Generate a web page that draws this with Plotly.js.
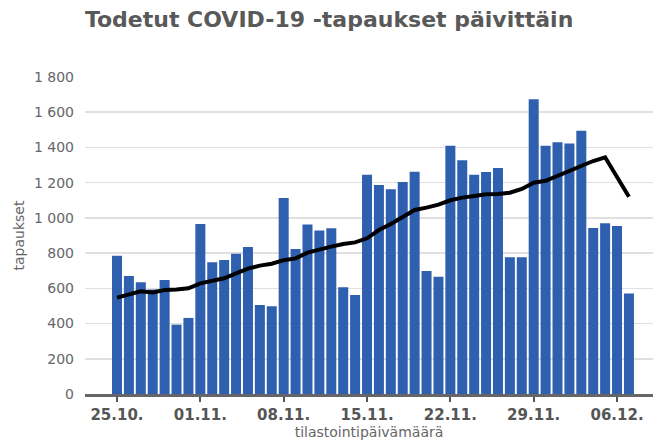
<!DOCTYPE html>
<html>
<head>
<meta charset="utf-8">
<script src="https://cdn.plot.ly/plotly-3.0.1.min.js"></script>
<style>html,body{margin:0;padding:0;background:#fff}#chart{width:653px;height:441px}</style>
</head>
<body>
<div id="chart"></div>
<script>
const dates = [
"2020-10-25","2020-10-26","2020-10-27","2020-10-28","2020-10-29","2020-10-30","2020-10-31",
"2020-11-01","2020-11-02","2020-11-03","2020-11-04","2020-11-05","2020-11-06","2020-11-07",
"2020-11-08","2020-11-09","2020-11-10","2020-11-11","2020-11-12","2020-11-13","2020-11-14",
"2020-11-15","2020-11-16","2020-11-17","2020-11-18","2020-11-19","2020-11-20","2020-11-21",
"2020-11-22","2020-11-23","2020-11-24","2020-11-25","2020-11-26","2020-11-27","2020-11-28",
"2020-11-29","2020-11-30","2020-12-01","2020-12-02","2020-12-03","2020-12-04","2020-12-05",
"2020-12-06","2020-12-07"];
const cases = [
785,670,634,594,647,394,432,
965,748,761,797,835,505,498,
1113,823,963,928,941,606,562,
1245,1187,1162,1204,1262,698,666,
1410,1327,1245,1261,1283,776,776,
1673,1410,1429,1423,1495,943,969,
954,570];
const avg7 = [
547,566,583,577,590,594,600,
628,640,657,685,712,729,740,
760,770,803,822,837,852,861,
884,931,965,1007,1045,1058,1075,
1100,1115,1124,1134,1136,1143,1164,
1200,1211,1240,1266,1297,1323,1344,
1232,1120];
const xTickVals = ["2020-10-25","2020-11-01","2020-11-08","2020-11-15","2020-11-22","2020-11-29","2020-12-06"];
const xTickText = ["25.10.","01.11.","08.11.","15.11.","22.11.","29.11.","06.12."];
const yTickVals = [0,200,400,600,800,1000,1200,1400,1600,1800];

const traces = [
  {type:'bar', x:dates, y:cases, marker:{color:'#2f5faf'}, hoverinfo:'skip'},
  {type:'scatter', mode:'lines', x:dates, y:avg7, line:{color:'#000', width:4}, hoverinfo:'skip'}
];
const layout = {
  width:653, height:441,
  margin:{l:85, r:0, t:77, b:47},
  paper_bgcolor:'#fff', plot_bgcolor:'#fff',
  showlegend:false,
  separators:', ',
  bargap:0.16,
  font:{family:'DejaVu Sans', color:'#666'},
  title:{text:'<b>Todetut COVID-19 -tapaukset päivittäin</b>', x:0.504, xref:'container', xanchor:'center', y:0.973, yref:'container', yanchor:'top', font:{size:22, color:'#595959', family:'DejaVu Sans'}},
  xaxis:{
    type:'date', range:['2020-10-22T07:30','2020-12-09T00:30'],
    tickvals:xTickVals, ticktext:xTickText,
    tickfont:{size:15, color:'#555', family:'DejaVu Sans', weight:'bold'},
    ticks:'outside', ticklen:5, tickwidth:2, tickcolor:'#555',
    showline:true, linecolor:'#666', linewidth:3,
    showgrid:false, zeroline:false,
    title:{text:'tilastointipäivämäärä', font:{size:14, color:'#666'}, standoff:4}
  },
  yaxis:{
    range:[0,1800], tickvals:yTickVals, tickformat:',d',
    tickfont:{size:14, color:'#666'},
    showgrid:true, gridcolor:'#e0e0e0', gridwidth:1.5,
    zeroline:false, showline:false, ticks:'', ticklabelstandoff:10,
    title:{text:'tapaukset', font:{size:14, color:'#666'}, standoff:6}
  }
};
Plotly.newPlot('chart', traces, layout, {staticPlot:true, displayModeBar:false});
</script>
</body>
</html>
